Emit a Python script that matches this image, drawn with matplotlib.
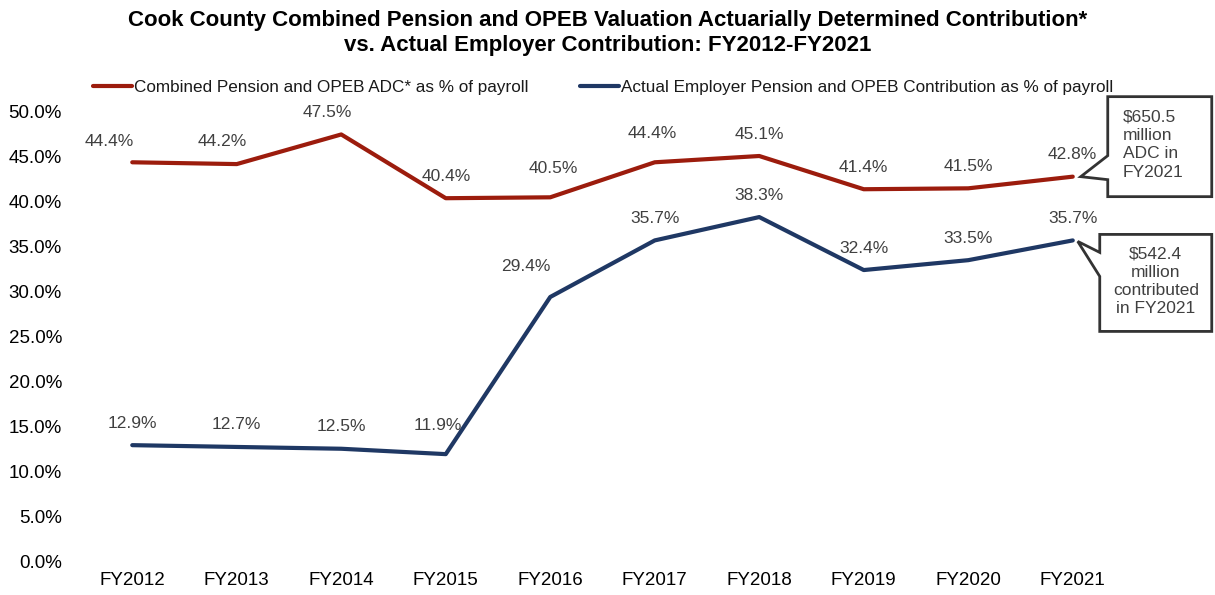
#!/usr/bin/env python3
"""Cook County pension/OPEB ADC vs actual contribution, FY2012-FY2021."""

import matplotlib
matplotlib.use('Agg')
import matplotlib.pyplot as plt
import matplotlib.transforms as mtransforms
from matplotlib.patches import Polygon
from matplotlib.ticker import FuncFormatter

years = ['FY2012', 'FY2013', 'FY2014', 'FY2015', 'FY2016',
         'FY2017', 'FY2018', 'FY2019', 'FY2020', 'FY2021']
adc_pct = [44.4, 44.2, 47.5, 40.4, 40.5, 44.4, 45.1, 41.4, 41.5, 42.8]
actual_pct = [12.9, 12.7, 12.5, 11.9, 29.4, 35.7, 38.3, 32.4, 33.5, 35.7]

adc_name = 'Combined Pension and OPEB ADC* as % of payroll'
actual_name = 'Actual Employer Pension and OPEB Contribution as % of payroll'
adc_note = '$650.5\nmillion\nADC in\nFY2021'
actual_note = '$542.4\nmillion\ncontributed\nin FY2021'

RED = '#9C1C0D'
BLUE = '#1F3864'
GRAY = '#404040'

# hand-placed label nudges (pixels), like the manual Excel layout
adc_nudge = {0: (-23, 21), 1: (-15, 23), 2: (-14, 22), 4: (3, 29), 5: (-3, 29)}
actual_nudge = {3: (-8, 29), 4: (-24, 30)}

plt.rcParams['font.family'] = ['Liberation Sans', 'DejaVu Sans']

fig = plt.figure(figsize=(12.15, 5.95), dpi=100)
ax = fig.add_axes([80 / 1215, 34 / 595, 1045 / 1215, 449 / 595])

x = list(range(len(years)))
ax.plot(x, adc_pct, color=RED, lw=3.0, solid_capstyle='round', label=adc_name)
ax.plot(x, actual_pct, color=BLUE, lw=3.0, solid_capstyle='round', label=actual_name)

ax.set_xlim(-0.5, len(years) - 0.5)
ax.set_ylim(0, 50)
ax.set_yticks(range(0, 51, 5))
ax.yaxis.set_major_formatter(FuncFormatter(lambda v, p: f'{v:.1f}%'))
ax.set_xticks(x)
ax.set_xticklabels(years)
ax.tick_params(axis='y', length=0, pad=13, labelsize=13.5)
ax.tick_params(axis='x', length=0, pad=8, labelsize=13.5)
for s in ax.spines.values():
    s.set_visible(False)

# data labels
for vals, nudge in ((adc_pct, adc_nudge), (actual_pct, actual_nudge)):
    for i in x:
        dx, dy = nudge.get(i, (0, 22))
        ax.annotate(f'{vals[i]:.1f}%', (i, vals[i]), xytext=(dx, dy),
                    textcoords='offset pixels', ha='center', va='center',
                    fontsize=12.5, color=GRAY)

leg = ax.legend(loc='center left', bbox_to_anchor=(13 / 1045, 1 + 25 / 449), ncol=2,
                frameon=False, fontsize=12.3, handlelength=2.3, handletextpad=0.1,
                columnspacing=3.0, borderaxespad=0.0, borderpad=0.0)
for t in leg.get_texts():
    t.set_color('#1a1a1a')
for h in leg.get_lines():
    h.set_linewidth(3.0)

fig.text(0.5, 1 - 33 / 595,
         'Cook County Combined Pension and OPEB Valuation Actuarially Determined Contribution*\n'
         'vs. Actual Employer Contribution: FY2012-FY2021',
         ha='center', va='center', fontsize=16, fontweight='bold', linespacing=1.2)


def callout(xi, yi, verts, text, tx, ty, ha):
    # verts/tx/ty in pixels relative to the data point (y up)
    tr = (mtransforms.Affine2D().scale(1 / fig.dpi) + fig.dpi_scale_trans
          + mtransforms.ScaledTranslation(xi, yi, ax.transData))
    poly = Polygon(verts, closed=True, transform=tr, facecolor='white',
                   edgecolor='#333333', lw=2.0, joinstyle='miter', clip_on=False, zorder=5)
    ax.add_patch(poly)
    ax.text(tx, ty, text, transform=tr, ha=ha, va='center', fontsize=12.5,
            color=GRAY, linespacing=1.28, zorder=6, clip_on=False)


# ADC callout, pointing at the last red point
callout(9, adc_pct[9],
        [(8, 0), (35, 21), (35, 80), (139, 80), (139, -20), (35, -20), (35, -3)],
        adc_note, 50, 32, 'left')
# actual contribution callout, pointing at the last blue point
callout(9, actual_pct[9],
        [(5, -1), (27, -36), (27, -91), (139, -91), (139, 6), (27, 6), (27, -12)],
        actual_note, 83, -41, 'center')

fig.savefig('out.png', dpi=100)
print('Saved: out.png')
